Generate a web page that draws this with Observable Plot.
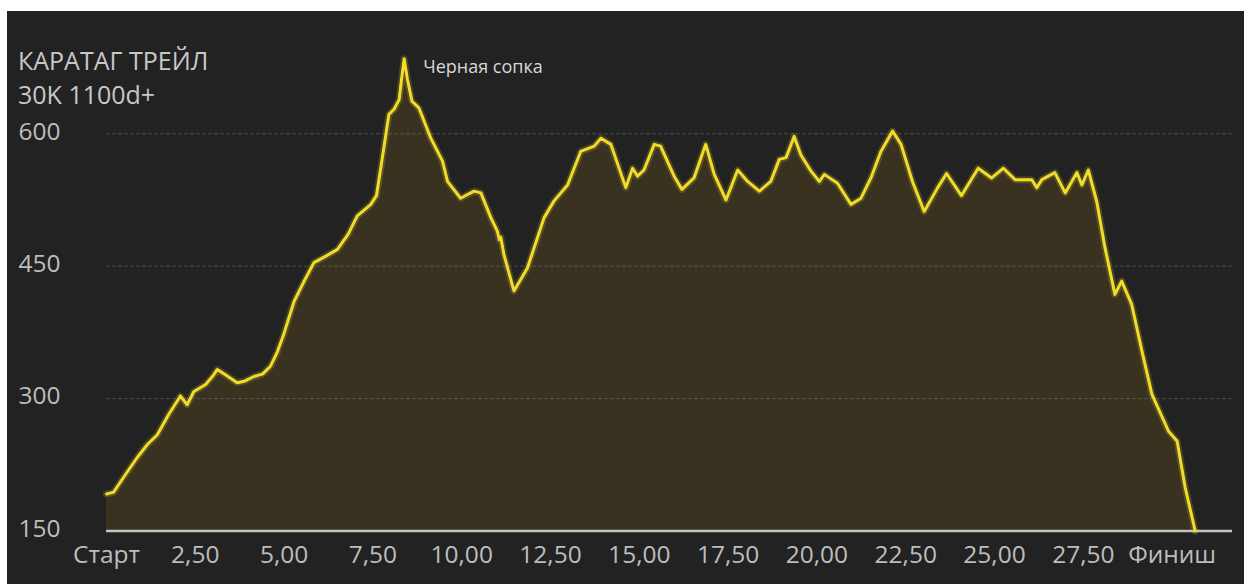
<!DOCTYPE html>
<html><head><meta charset="utf-8">
<script src="https://cdn.jsdelivr.net/npm/d3@7"></script>
<script src="https://cdn.jsdelivr.net/npm/@observablehq/plot@0.6"></script>
<style>
html,body{margin:0;padding:0;background:#fff;}
#wrap{position:absolute;left:7px;top:11px;width:1237px;height:573px;background:#222222;overflow:hidden;font-family:"Open Sans",sans-serif;}
.t{position:absolute;left:11px;color:#c8c8c8;font-size:25px;line-height:25px;white-space:nowrap;}
</style></head><body><div id="wrap"></div>
<script>
const km = [0, 0.2, 0.5, 0.86, 1.15, 1.43, 1.75, 2.08, 2.27, 2.46, 2.79, 3.0, 3.12, 3.35, 3.68, 3.9, 4.15, 4.4, 4.62, 4.8, 4.99, 5.28, 5.55, 5.84, 6.2, 6.5, 6.8, 7.06, 7.44, 7.6, 7.72, 7.95, 8.1, 8.24, 8.3, 8.38, 8.47, 8.6, 8.8, 9.13, 9.46, 9.6, 9.97, 10.2, 10.35, 10.54, 10.82, 11.0, 11.06, 11.1, 11.19, 11.47, 11.85, 12.32, 12.6, 12.98, 13.35, 13.73, 13.92, 14.2, 14.62, 14.81, 14.95, 15.13, 15.42, 15.6, 15.98, 16.2, 16.54, 16.87, 17.11, 17.44, 17.77, 18.05, 18.38, 18.7, 18.94, 19.13, 19.36, 19.55, 19.83, 20.07, 20.21, 20.58, 20.96, 21.24, 21.52, 21.8, 22.13, 22.37, 22.69, 23.02, 23.4, 23.65, 24.07, 24.54, 24.92, 25.25, 25.58, 26.05, 26.19, 26.33, 26.7, 26.99, 27.32, 27.46, 27.64, 27.88, 28.11, 28.39, 28.58, 28.86, 29.15, 29.43, 29.9, 30.14, 30.37, 30.65];
const elev = [192, 194, 212, 233, 248, 259, 282, 303, 293, 308, 316, 326, 333, 327, 318, 320, 325, 328, 337, 352, 373, 410, 432, 454, 462, 469, 486, 507, 520, 530, 561, 622, 628, 639, 660, 685, 662, 637, 629, 595, 569, 546, 527, 532, 535, 533, 505, 490, 480, 483, 463, 422, 448, 505, 524, 542, 580, 586, 595, 588, 539, 561, 552, 559, 588, 586, 552, 537, 550, 588, 554, 525, 559, 546, 535, 546, 571, 573, 597, 576, 558, 546, 554, 544, 520, 527, 550, 580, 603, 588, 546, 512, 539, 555, 530, 561, 550, 561, 548, 548, 539, 548, 556, 533, 556, 542, 559, 523, 471, 418, 433, 407, 354, 305, 263, 252, 199, 150];
const yTicks = [150, 300, 450, 600];
const xTicks = [0, 2.5, 5, 7.5, 10, 12.5, 15, 17.5, 20, 22.5, 25, 27.5, 30];
const xTickLabels = ["Старт", "2,50", "5,00", "7,50", "10,00", "12,50", "15,00", "17,50", "20,00", "22,50", "25,00", "27,50", "Финиш"];
const peakKm = [8.38];
const peakElev = [685];
const peakLabel = ["Черная сопка"];
const titleLines = ["КАРАТАГ ТРЕЙЛ", "30K 1100d+"];

const data = km.map((k, i) => ({km: k, elev: elev[i]}));
const wrap = document.getElementById("wrap");

const chart = Plot.plot({
  width: 1237, height: 573,
  marginLeft: 99, marginRight: 12, marginTop: 34, marginBottom: 53.5,
  x: {domain: [0, 31.7], axis: null},
  y: {domain: [150, 700], axis: null},
  style: {background: "transparent", fontFamily: "Open Sans"},
  marks: [
    Plot.areaY(data, {x: "km", y1: 150, y2: "elev", fill: "#3a3220"}),
    Plot.gridY(yTicks.filter(d => d > 150), {stroke: "#8a8a8a", strokeOpacity: 0.4, strokeDasharray: "4,2", strokeWidth: 1}),
    Plot.ruleY([150], {stroke: "#c4c4c4", strokeWidth: 2.5}),
    Plot.line(data, {x: "km", y: "elev", stroke: "#f2dc2a", strokeWidth: 7, strokeOpacity: 0.18}),
    Plot.line(data, {x: "km", y: "elev", stroke: "#f2dc2a", strokeWidth: 3}),
    Plot.text(yTicks, {y: d => d, text: d => String(d), frameAnchor: "left", textAnchor: "start", dx: -88, dy: -2, fill: "#bdbdbd", fontSize: 24.5}),
    Plot.text(xTicks, {x: d => d, text: (d, i) => xTickLabels[i], frameAnchor: "bottom", dy: 24.5, lineAnchor: "middle", fill: "#bdbdbd", fontSize: 24.5}),
    Plot.text(peakKm, {x: d => d, y: (d, i) => peakElev[i], text: (d, i) => peakLabel[i], textAnchor: "start", dx: 19, dy: 8, fill: "#d8d8d8", fontSize: 18})
  ]
});
wrap.appendChild(chart);

const tops = [37, 71];
titleLines.forEach((s, i) => {
  const d = document.createElement("div");
  d.className = "t";
  d.style.top = tops[i] + "px";
  d.textContent = s;
  wrap.appendChild(d);
});
</script>
</body></html>
